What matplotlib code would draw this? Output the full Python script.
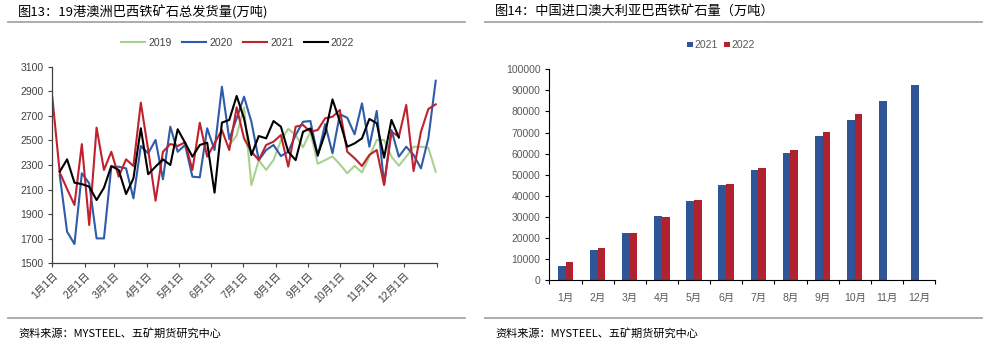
import numpy as np
import matplotlib.pyplot as plt
from matplotlib.lines import Line2D

plt.rcParams['font.family'] = ['Liberation Sans', 'Noto Sans CJK SC']

nan = np.nan

# ---- 图13 周度发货量 (万吨), 第0周 = 1月1日
week_no = np.arange(53)
month_start_days = [0, 31, 59, 90, 120, 151, 181, 212, 243, 273, 304, 334]
month_labels = ["1月1日", "2月1日", "3月1日", "4月1日", "5月1日", "6月1日",
                "7月1日", "8月1日", "9月1日", "10月1日", "11月1日", "12月1日"]

ship_2019 = [nan] * 24 + [
    2460, 2540, 2770, 2137, 2340, 2260, 2340, 2500, 2595, 2544, 2444, 2571, 2310,
    2340, 2370, 2306, 2233, 2294, 2240, 2368, 2504, 2504, 2368, 2294, 2368, 2449,
    2449, 2440, 2246]
ship_2020 = [nan,
    2219, 1757, 1657, 2233, 2151, 1703, 1703, 2286, 2286, 2273, 2029, 2455, 2395,
    2504, 2184, 2612, 2408, 2463, 2205, 2200, 2599, 2422, 2937, 2510, 2680, 2856,
    2652, 2340, 2422, 2463, 2373, 2408, 2544, 2652, 2658, 2373, 2633, 2395, 2713,
    2685, 2550, 2802, 2449, 2740, 2143, 2585, 2368, 2449, 2382, 2273, 2517, 2986]
ship_2021 = [
    2850, 2240, 2105, 1975, 2470, 1812, 2604, 2260, 2408, 2205, 2346, 2292, 2807,
    2422, 2010, 2408, 2471, 2455, 2485, 2260, 2644, 2368, 2476, 2585, 2422, 2770,
    2517, 2408, 2341, 2463, 2490, 2544, 2287, 2612, 2626, 2571, 2585, 2680, 2693,
    2748, 2408, 2355, 2292, 2382, 2422, 2137, 2571, 2531, 2789, 2251, 2571, 2756, 2794]
ship_2022 = [nan,
    2246, 2346, 2156, 2145, 2124, 2015, 2115, 2292, 2260, 2064, 2192, 2599, 2225,
    2287, 2346, 2300, 2591, 2482, 2368, 2463, 2482, 2075, 2645, 2667, 2862, 2680,
    2381, 2536, 2517, 2658, 2612, 2408, 2340, 2571, 2598, 2381, 2558, 2834, 2653,
    2449, 2476, 2517, 2675, 2640, 2360, 2667, 2524] + [nan] * 5

# ---- 图14 累计进口量 (万吨)
months = ["1月", "2月", "3月", "4月", "5月", "6月", "7月", "8月", "9月", "10月", "11月", "12月"]
imp_2021 = [7000, 14500, 22600, 30600, 37700, 45000, 52100, 60200, 68200, 76000, 85000, 92400]
imp_2022 = [8500, 15300, 22600, 30000, 38100, 45500, 53400, 61700, 70300, 78800]

fig = plt.figure(figsize=(9.99, 3.53), dpi=100)

# ---------------- left chart
ax1 = fig.add_axes([0.0524, 0.254, 0.3848, 0.557])
x_days = week_no * 7
series = [(ship_2019, "#A9D18E", "2019"), (ship_2020, "#2F5BA8", "2020"),
          (ship_2021, "#C0212F", "2021"), (ship_2022, "#000000", "2022")]
for vals, color, label in series:
    ax1.plot(x_days, vals, color=color, lw=1.5, label=label)

ax1.set_xlim(0, 365)
ax1.set_ylim(1500, 3100)
ax1.set_yticks(range(1500, 3101, 200))
ax1.set_xticks(month_start_days + [365])
ax1.set_xticklabels(month_labels + [""], rotation=45, ha='right', rotation_mode='anchor')
ax1.tick_params(axis='both', labelsize=7.5, colors='#404040', length=3, width=0.8)
ax1.tick_params(axis='x', pad=2)
for s in ['top', 'right']:
    ax1.spines[s].set_visible(False)
for s in ['left', 'bottom']:
    ax1.spines[s].set_color('#404040')
    ax1.spines[s].set_linewidth(0.9)
ax1.legend(loc='center', bbox_to_anchor=(0.238, 0.878), bbox_transform=fig.transFigure,
           ncol=4, frameon=False, fontsize=7.5, handlelength=2.3, handletextpad=0.3,
           columnspacing=1.0, labelcolor='#404040')

# ---------------- right chart
ax2 = fig.add_axes([0.55, 0.206, 0.386, 0.598])
pos = np.arange(len(months))
ax2.bar(pos - 0.12, imp_2021, 0.24, color="#2F5597", label="2021")
ax2.bar(pos[:len(imp_2022)] + 0.12, imp_2022, 0.24, color="#B0232E", label="2022")
ax2.set_xlim(-0.5, 11.5)
ax2.set_ylim(0, 100000)
ax2.set_yticks(range(0, 100001, 10000))
ax2.set_xticks(np.arange(-0.5, 12, 1))
ax2.set_xticklabels([])
ax2.set_xticks(pos, minor=True)
ax2.set_xticklabels(months, minor=True)
ax2.tick_params(axis='both', labelsize=7.5, length=3, width=0.8, colors='#000000',
                labelcolor='#595959')
ax2.tick_params(axis='x', which='minor', length=0, pad=9, labelsize=7.5,
                labelcolor='#595959')
for s in ['top', 'right']:
    ax2.spines[s].set_visible(False)
ax2.legend(loc='center', bbox_to_anchor=(0.722, 0.872), bbox_transform=fig.transFigure,
           ncol=2, frameon=False, fontsize=7.5, handlelength=0.5, handleheight=0.5,
           handletextpad=0.2, columnspacing=0.6, labelcolor='#595959')

# ---------------- titles, rules, source
fig.text(18 / 999, 1 - 12 / 353, "图13：19港澳洲巴西铁矿石总发货量(万吨)",
         fontsize=9.5, va='center', ha='left', family=['Noto Sans CJK SC'])
fig.text(495 / 999, 1 - 12 / 353, "图14：中国进口澳大利亚巴西铁矿石量（万吨）",
         fontsize=9.5, va='center', ha='left', family=['Noto Sans CJK SC'])
for x0, x1 in [(8, 465), (485, 982)]:
    for y in [22, 318]:
        fig.add_artist(Line2D([x0 / 999, x1 / 999], [1 - y / 353, 1 - y / 353],
                              color='#A6A6A6', lw=1.3, transform=fig.transFigure))
for x0 in [18, 495]:
    fig.text(x0 / 999, 1 - 333 / 353, "资料来源：MYSTEEL、五矿期货研究中心",
             fontsize=8, va='center', ha='left', family=['Noto Sans CJK SC'])

fig.savefig("out.png", dpi=100)
